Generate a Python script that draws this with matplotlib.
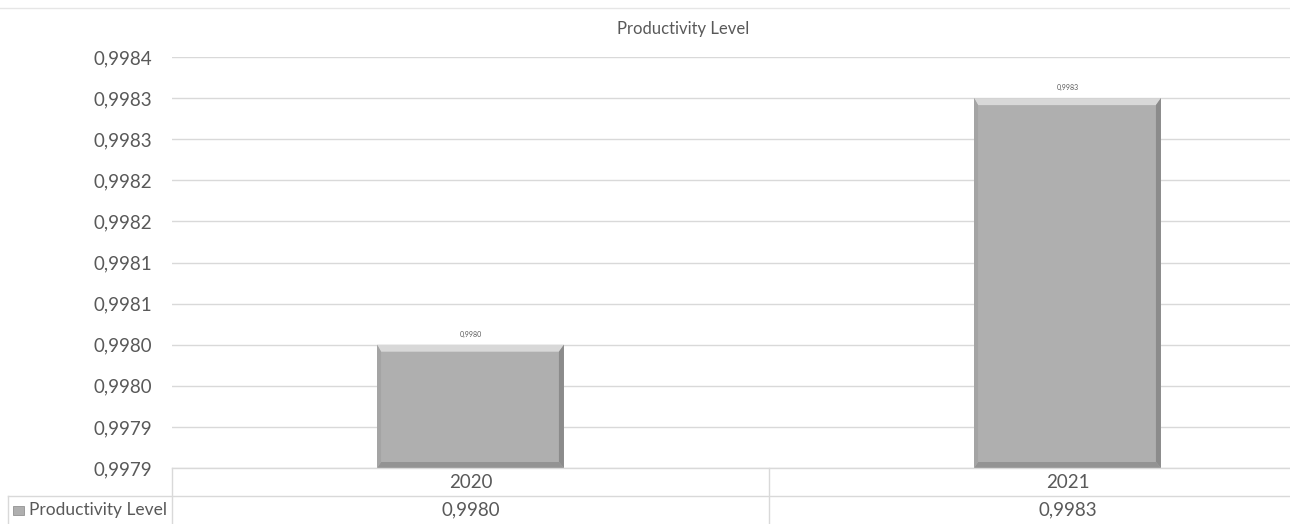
import matplotlib
matplotlib.use("Agg")
import matplotlib.pyplot as plt
from matplotlib.patches import Polygon, Rectangle
from matplotlib.lines import Line2D
from decimal import Decimal, ROUND_HALF_UP
import numpy as np

# Data
categories = ["2020", "2021"]
values = [0.99800, 0.99830]
series_name = "Productivity Level"
y_ticks = [0.99785, 0.99790, 0.99795, 0.99800, 0.99805, 0.99810,
           0.99815, 0.99820, 0.99825, 0.99830, 0.99835]

FONT = "Lato"
TXT = "#595959"
GRID = "#D9D9D9"


def fmt(v):
    d = Decimal(repr(v)).quantize(Decimal("0.0001"), rounding=ROUND_HALF_UP)
    return str(d).replace(".", ",")


W, H = 1290, 524
fig = plt.figure(figsize=(W / 100, H / 100), dpi=100)
fig.patch.set_facecolor("white")

# plot area runs past the right edge of the canvas
ax = fig.add_axes([172 / W, (H - 468) / H, 1194 / W, (468 - 57) / H])
ax.set_xlim(-0.5, len(categories) - 0.5)
ax.set_ylim(y_ticks[0], y_ticks[-1])
ax.set_yticks(y_ticks)
ax.set_yticklabels([fmt(t) for t in y_ticks], fontsize=13.5, color=TXT, family=FONT)
ax.tick_params(axis="y", length=0, pad=14)
ax.set_xticks([])
for s in ax.spines.values():
    s.set_visible(False)
ax.grid(axis="y", color=GRID, linewidth=1.0)
ax.set_axisbelow(True)

x = np.arange(len(categories))
bars = ax.bar(x, [v - y_ticks[0] for v in values], bottom=y_ticks[0], width=0.313,
              color="#AFAFAF", edgecolor="none", zorder=2)

# Bevelled bar edges, built in pixel space around each bar
fig.canvas.draw()
inv = ax.transData.inverted()
bev_top, bev_side, bev_bot, bev_left = 7, 5, 6, 4
for b, v in zip(bars, values):
    x0, y0 = ax.transData.transform((b.get_x(), b.get_y()))
    x1, y1 = ax.transData.transform((b.get_x() + b.get_width(), b.get_y() + b.get_height()))
    faces = [
        ([(x0, y1), (x1, y1), (x1 - bev_side, y1 - bev_top), (x0 + bev_left, y1 - bev_top)], "#D8D8D8"),
        ([(x1, y1), (x1, y0), (x1 - bev_side, y0 + bev_bot), (x1 - bev_side, y1 - bev_top)], "#8B8B8B"),
        ([(x0, y0), (x1, y0), (x1 - bev_side, y0 + bev_bot), (x0 + bev_left, y0 + bev_bot)], "#939393"),
        ([(x0, y0), (x0, y1), (x0 + bev_left, y1 - bev_top), (x0 + bev_left, y0 + bev_bot)], "#A4A4A4"),
    ]
    for pts, c in faces:
        ax.add_patch(Polygon(inv.transform(pts), closed=True, facecolor=c,
                             edgecolor="none", zorder=3))
    ax.annotate(fmt(v), (b.get_x() + b.get_width() / 2, b.get_y() + b.get_height()),
                xytext=(0, 5), textcoords="offset points", ha="center", va="bottom",
                fontsize=5, color=TXT, family=FONT)

# Title and top border
fig.text(683 / W, (H - 29) / H, series_name, ha="center", va="center",
         fontsize=12, color=TXT, family=FONT)
fig.add_artist(Line2D([0, 1], [(H - 8) / H] * 2, color="#E6E6E6", linewidth=1))


def fx(px):
    return px / W


def fy(py):
    return (H - py) / H


# Data table below the plot
lc = "#D9D9D9"
fig.add_artist(Line2D([fx(172), 1], [fy(468)] * 2, color=lc, linewidth=1))
fig.add_artist(Line2D([fx(8), 1], [fy(496)] * 2, color=lc, linewidth=1))
fig.add_artist(Line2D([fx(172)] * 2, [fy(468), 0], color=lc, linewidth=1))
fig.add_artist(Line2D([fx(8)] * 2, [fy(496), 0], color=lc, linewidth=1))
mid = ax.transData.transform((0.5, 0))[0]
fig.add_artist(Line2D([mid / W] * 2, [fy(468), 0], color=lc, linewidth=1))

for xi, cat, v in zip(x, categories, values):
    px = ax.transData.transform((xi, 0))[0]
    fig.text(px / W, fy(482), cat, ha="center", va="center", fontsize=13.5, color=TXT, family=FONT)
    fig.text(px / W, fy(510), fmt(v), ha="center", va="center", fontsize=13.5, color=TXT, family=FONT)

# Legend key in the table
fig.add_artist(Rectangle((fx(13), fy(515)), 11 / W, 9 / H, facecolor="#AFAFAF",
                         edgecolor="#939393", linewidth=0.6, transform=fig.transFigure))
fig.text(fx(29), fy(510), series_name, ha="left", va="center", fontsize=12.5,
         color=TXT, family=FONT)

fig.savefig("out.png", dpi=100, facecolor="white")
